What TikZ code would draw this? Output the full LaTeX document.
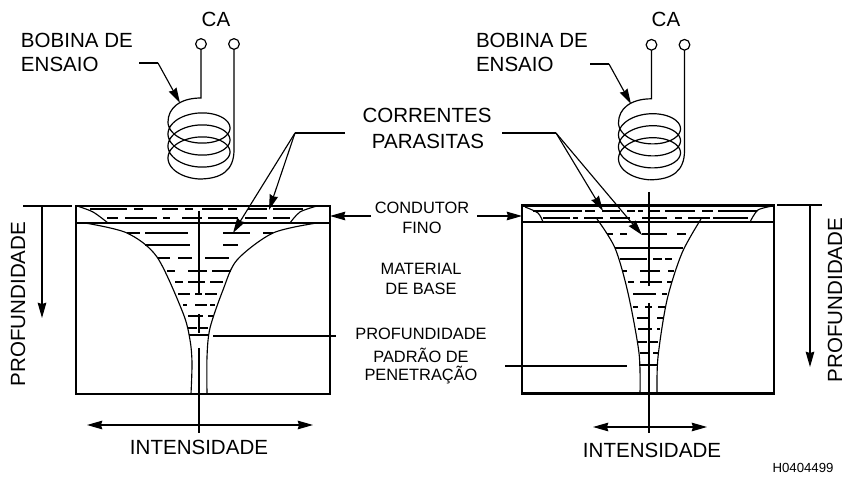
\documentclass[tikz,border=0pt]{standalone}
\usepackage{fontspec}
\setmainfont{Liberation Sans}
\usetikzlibrary{arrows.meta}
\begin{document}
\begin{tikzpicture}[
    x=0.75pt, y=-0.75pt,
    every node/.style={inner sep=0pt, outer sep=0pt},
    fio/.style={line width=0.9pt},
    linha/.style={line width=0.85pt},
    grossa/.style={line width=1.5pt},
    seta/.style={line width=0.85pt, -{Stealth[length=11.5pt, width=6.5pt, inset=1pt]}},
    setadupla/.style={line width=0.85pt, {Stealth[length=11.5pt, width=6.5pt, inset=1pt]}-{Stealth[length=11.5pt, width=6.5pt, inset=1pt]}},
    caixa/.style={draw, line width=1.6pt, anchor=north west, minimum height=141pt},
    terminal/.style={circle, draw, line width=0.9pt, fill=white, minimum size=8pt},
    rotulo/.style={font=\fontsize{15.4}{18}\selectfont},
    texto/.style={font=\fontsize{12.3}{15}\selectfont}
]
\useasboundingbox (0,0) rectangle (851,488);

\node[caixa, minimum width=190.5pt] (caixaA) at (76,206) {};
\node[caixa, minimum width=189pt] (caixaB) at (522,205.5) {};

\draw[linha] (76,223) -- (330,223);
\draw[linha] (522,222) -- (774,222);

\foreach \lado/\dx/\dy in {A/0/0, B/450.5/0.8} {
  \begin{scope}[shift={(\dx,\dy)}]
    \node[terminal] (termin\lado) at (201,44) {};
    \node[terminal] (termout\lado) at (234,44) {};
    \coordinate (ini\lado) at (168,122);
    \coordinate (fim\lado) at (199,179);
    \draw[fio] (termin\lado) -- (201,98) .. controls (180,98) and (168,108) .. (ini\lado);
    \draw[fio, domain=0:1170, samples=240, smooth, variable=\t]
      plot ({199-31*cos(\t)}, {122+\t/30+18*sin(\t)});
    \draw[fio] (fim\lado) .. controls (222,179) and (234,170) .. (234,150) -- (termout\lado);
  \end{scope}
}

\draw[linha] plot[smooth] coordinates {(85,223) (127,233) (157,257) (183,313) (190,340) (192,363) (191,394)};
\draw[linha] plot[smooth] coordinates {(317,223) (273,233) (237,260) (223,290) (210,328) (207,357) (207,394)};
\draw[linha] plot[smooth] coordinates {(77,206) (93,212) (108,223)};
\draw[linha] plot[smooth] coordinates {(317,206) (300,212) (290,223)};

\draw[linha] plot[smooth] coordinates {(597,219) (615,248) (628,293) (639,353) (640,394)};
\draw[linha] plot[smooth] coordinates {(701,219) (682,253) (667,300) (658,357) (657,394)};
\draw[linha] plot[smooth] coordinates {(525,207) (538,213) (543,222)};
\draw[linha] plot[smooth] coordinates {(773,206) (758,210) (750,222)};

\foreach \xa/\xb/\yy in {
  90/127/209, 134/143/209, 162/178/209, 185/193/209, 202/223/209, 228/237/209, 248/267/209, 273/303/209,
  107/118/218, 125/157/218, 163/170/218, 182/202/218, 208/238/218, 245/267/218, 273/290/218,
  127/140/233, 145/188/233, 223/250/233, 263/273/233,
  145/190/245, 223/238/245,
  158/170/258, 178/192/258, 205/229/258,
  167/175/271, 188/207/271, 212/231/271,
  175/183/282, 188/205/282, 210/223/282,
  178/190/294, 195/202/294, 205/217/294,
  183/187/305, 195/207/305, 210/215/305,
  188/203/316, 208/213/316,
  188/197/328, 200/208/328,
  533/582/211, 585/595/211, 602/620/211, 627/635/211, 638/643/211, 650/660/211, 665/695/211, 702/713/211, 718/757/211,
  543/570/218, 573/578/218, 584/603/218, 610/630/218, 642/667/218, 675/682/218, 688/710/218, 713/748/218,
  607/613/234, 620/627/234, 642/667/234, 677/686/234,
  615/683/248,
  620/647/259, 653/662/259, 665/672/259,
  623/627/271, 640/660/271, 668/674/271,
  628/634/282, 640/662/282, 667/672/282,
  633/656/294, 662/667/294,
  633/638/307, 645/652/307, 658/665/307,
  637/650/318, 657/663/318,
  638/652/329, 657/660/329,
  638/647/342, 650/658/342,
  640/650/353, 653/658/353} {
  \draw[linha] (\xa,\yy) -- (\xb,\yy);
}
\draw[grossa] (189,335) -- (208,335);
\draw[grossa] (639,365) -- (658,365);

\draw[linha] (199,211) -- (199,295);
\draw[linha] (199,314) -- (199,333);
\draw[linha] (199,348) -- (199,433);
\draw[linha] (649,192) -- (649,286);
\draw[linha] (649,303) -- (649,433);

\node[rotulo] (caA) at (216,19) {CA};
\node[rotulo] (caB) at (666,19) {CA};
\node[rotulo, anchor=west] (bobinaA) at (21,40) {BOBINA DE};
\node[rotulo, anchor=west] (ensaioA) at (21,64) {ENSAIO};
\node[rotulo, anchor=west] (bobinaB) at (476,40) {BOBINA DE};
\node[rotulo, anchor=west] (ensaioB) at (476,64) {ENSAIO};
\node[rotulo] (correntes) at (427,115) {CORRENTES};
\node[rotulo] (parasitas) at (428,141) {PARASITAS};
\node[texto] (condutor) at (422,208) {CONDUTOR};
\node[texto] (fino) at (422,228) {FINO};
\node[texto] (material) at (421,269) {MATERIAL};
\node[texto] (base) at (421,289) {DE BASE};
\node[texto] (profpadrao) at (421,334) {PROFUNDIDADE};
\node[texto] (padrao) at (421,355) {PADRÃO DE};
\node[texto] (penetracao) at (421,375) {PENETRAÇÃO};
\node[rotulo] (intA) at (199,447) {INTENSIDADE};
\node[rotulo] (intB) at (652,450) {INTENSIDADE};
\node[rotulo, rotate=90] (profA) at (18,304) {PROFUNDIDADE};
\node[rotulo, rotate=90] (profB) at (835,300) {PROFUNDIDADE};
\node[font=\fontsize{9.9}{12}\selectfont] (codigo) at (803,468) {H0404499};

\coordinate (leadA0) at (139,63);
\coordinate (leadA1) at (158,63);
\coordinate (tipA) at (180,103);
\coordinate (leadB0) at (590,64);
\coordinate (leadB1) at (609,64);
\coordinate (tipB) at (631,104);
\draw[linha] (leadA0) -- (leadA1);
\draw[seta] (leadA1) -- (tipA);
\draw[linha] (leadB0) -- (leadB1);
\draw[seta] (leadB1) -- (tipB);

\coordinate (corrA0) at (345,133);
\coordinate (corrA1) at (295,133);
\coordinate (corrB0) at (502,133);
\coordinate (corrB1) at (556,133);
\coordinate (tipC1) at (233,233);
\coordinate (tipC2) at (269,210);
\coordinate (tipC3) at (603,211);
\coordinate (tipC4) at (642,235);
\draw[linha] (corrA0) -- (corrA1);
\draw[seta] (corrA1) -- (tipC1);
\draw[seta] (corrA1) -- (tipC2);
\draw[linha] (corrB0) -- (corrB1);
\draw[seta] (corrB1) -- (tipC3);
\draw[seta] (corrB1) -- (tipC4);

\coordinate (condA) at (371,216);
\coordinate (condB) at (477,216);
\draw[seta] (condA) -- (condA -| caixaA.east);
\draw[seta] (condB) -- (condB -| caixaB.west);

\coordinate (leadP1) at (213,336);
\coordinate (leadP2) at (336,336);
\coordinate (leadP3) at (505,366);
\coordinate (leadP4) at (627,366);
\draw[linha] (leadP1) -- (leadP2);
\draw[linha] (leadP3) -- (leadP4);

\coordinate (supA0) at (23,206);
\coordinate (supA1) at (72,206);
\coordinate (supB0) at (777,205);
\coordinate (supB1) at (822,205);
\coordinate (topoA) at (42,206);
\coordinate (pontaA) at (42,318);
\coordinate (topoB) at (810,205);
\coordinate (pontaB) at (810,367);
\draw[linha] (supA0) -- (supA1);
\draw[linha] (supB0) -- (supB1);
\draw[seta] (topoA) -- (pontaA);
\draw[seta] (topoB) -- (pontaB);

\coordinate (intA0) at (87,425);
\coordinate (intA1) at (313,425);
\coordinate (intB0) at (593,427);
\coordinate (intB1) at (707,427);
\draw[setadupla] (intA0) -- (intA1);
\draw[setadupla] (intB0) -- (intB1);
\end{tikzpicture}
\end{document}
